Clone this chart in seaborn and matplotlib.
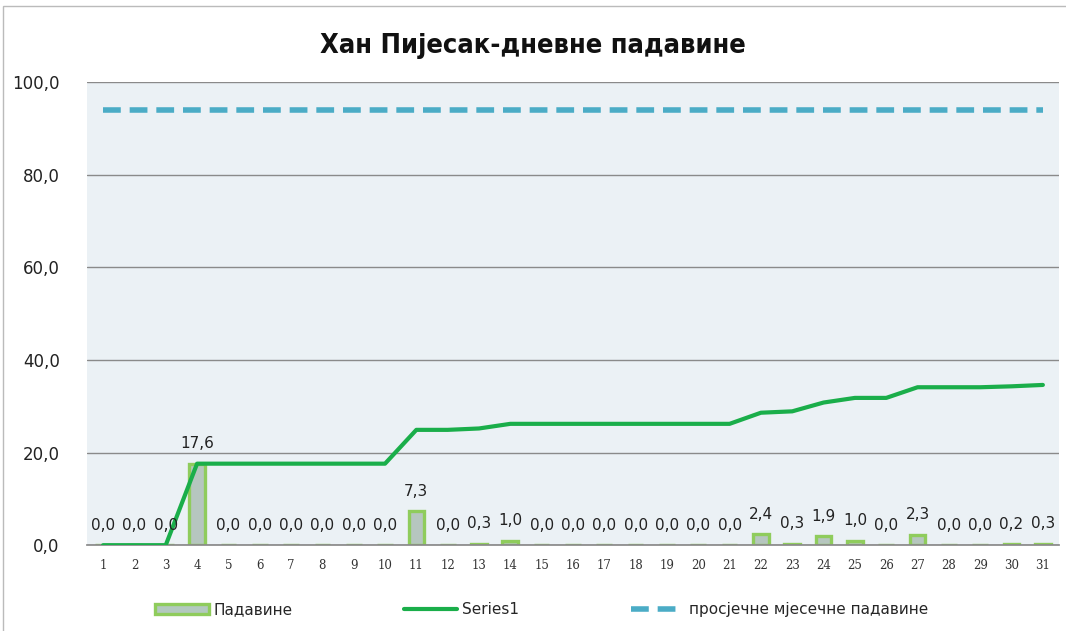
import numpy as np
import pandas as pd
import seaborn as sns
import matplotlib.pyplot as plt
from matplotlib.patches import Patch, Rectangle
from matplotlib.lines import Line2D
from matplotlib.ticker import FuncFormatter

# daily precipitation (mm), Han Pijesak
days = list(range(1, 32))
rain = [0.0, 0.0, 0.0, 17.6, 0.0, 0.0, 0.0, 0.0, 0.0, 0.0,
        7.3, 0.0, 0.3, 1.0, 0.0, 0.0, 0.0, 0.0, 0.0, 0.0,
        0.0, 2.4, 0.3, 1.9, 1.0, 0.0, 2.3, 0.0, 0.0, 0.2, 0.3]
monthly_avg = 94.0

title = "Хан Пијесак-дневне падавине"
bar_name = "Падавине"
line_name = "Series1"
avg_name = "просјечне мјесечне падавине"

df = pd.DataFrame({"day": days, "rain": rain})
df["cum"] = df["rain"].cumsum()
df["avg"] = monthly_avg

sns.set_theme(style="white")
plt.rcParams['font.family'] = ['DejaVu Sans']

fig = plt.figure(figsize=(10.66, 6.31), dpi=100)
ax = fig.add_axes([0.082, 0.136, 0.911, 0.734])
ax.set_facecolor("#ebf1f5")

sns.barplot(data=df, x="day", y="rain", native_scale=True, width=0.5,
            color="#b3c9bf", edgecolor="#8fcc5c", linewidth=2.4, ax=ax, zorder=2)
sns.lineplot(data=df, x="day", y="cum", color="#1aae4a", linewidth=3, ax=ax, zorder=3)
sns.lineplot(data=df, x="day", y="avg", color="#4bacc6", linewidth=4, ax=ax, zorder=3)
ax.lines[-1].set_dashes((3.2, 1.6))

ax.bar_label(ax.containers[0], labels=[f"{v:.1f}".replace(".", ",") for v in rain],
             padding=9, fontsize=11, color="#222222")

ax.set_xlim(0.5, 31.5)
ax.set_ylim(0, 100)
ax.set_yticks(range(0, 101, 20))
ax.yaxis.set_major_formatter(FuncFormatter(lambda v, p: f"{v:.1f}".replace(".", ",")))
ax.set_xticks(days)
ax.set_xticklabels([str(d) for d in days], family="DejaVu Serif", fontsize=8.5, color="#333333")
ax.tick_params(axis="y", labelsize=12, colors="#222222", length=0, pad=20)
ax.tick_params(axis="x", length=0, pad=10)
ax.grid(axis="y", color="#8a8a8a", linewidth=1)
ax.set_axisbelow(True)
ax.set_xlabel("")
ax.set_ylabel("")
for s in ["top", "right"]:
    ax.spines[s].set_visible(False)
ax.spines["left"].set_visible(False)
ax.spines["bottom"].set_color("#8a8a8a")

fig.suptitle(title, fontsize=19.5, fontweight="bold", fontstretch="condensed",
             y=0.948, x=0.5, color="#111111")

handles = [Patch(facecolor="#b3c9bf", edgecolor="#8fcc5c", linewidth=2.4),
           Line2D([0], [0], color="#1aae4a", linewidth=3),
           Line2D([0], [0], color="#4bacc6", linewidth=4, dashes=(3.2, 1.6))]
fig.legend(handles, [bar_name, line_name, avg_name], loc="lower center",
           bbox_to_anchor=(0.508, 0.0), ncol=3, frameon=False, fontsize=11,
           columnspacing=7.3, handlelength=3.5, handletextpad=0.3)

fig.patches.append(Rectangle((0.003, -0.01), 1.2, 1.0, transform=fig.transFigure,
                             fill=False, edgecolor="#bbbbbb", linewidth=1))

fig.savefig("out.png", dpi=100)
